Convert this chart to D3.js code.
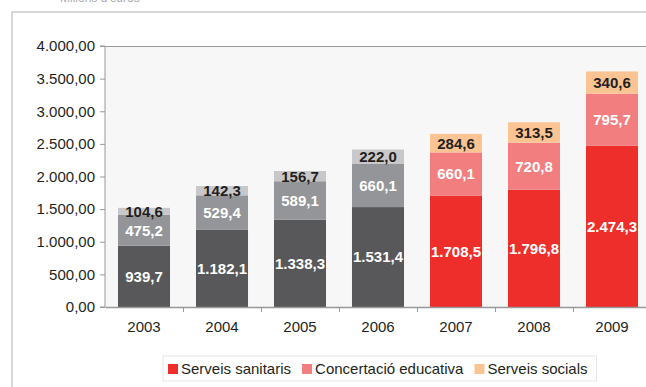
<!DOCTYPE html>
<html><head><meta charset="utf-8">
<script src="https://cdn.jsdelivr.net/npm/d3@7"></script>
<style>
html,body{margin:0;padding:0;background:#fff;overflow:hidden;}
text{font-family:"Liberation Sans",Arial,Helvetica,sans-serif;}
</style></head>
<body>
<svg id="chart" width="646" height="387"></svg>
<script>
const years = ["2003","2004","2005","2006","2007","2008","2009"];
const sanitaris = [939.7, 1182.1, 1338.3, 1531.4, 1708.5, 1796.8, 2474.3];
const educativa = [475.2, 529.4, 589.1, 660.1, 660.1, 720.8, 795.7];
const socials = [104.6, 142.3, 156.7, 222.0, 284.6, 313.5, 340.6];
const seriesNames = ["Serveis sanitaris", "Concertació educativa", "Serveis socials"];
const yTicks = [0, 500, 1000, 1500, 2000, 2500, 3000, 3500, 4000];

const colorsOld = ["#58585a", "#949598", "#c8c8ca"];
const colorsNew = ["#ee2e2b", "#f27e80", "#fcc493"];
const grayYears = ["2003","2004","2005","2006"];

const svg = d3.select("#chart");
const plot = {left:105, top:46, bottom:307};
const bandW = 78;
const FS = 15;

// outer frame
svg.append("rect").attr("x",12).attr("y",12).attr("width",700).attr("height",450)
  .attr("fill","none").attr("stroke","#cfcfcf").attr("stroke-width",1.6);
svg.append("text").attr("x",60).attr("y",2).attr("fill","#aaa").attr("font-size",12).text("Milions d'euros");

const x = d3.scaleBand().domain(years).range([plot.left, plot.left + bandW*years.length]).paddingInner(0.333).paddingOuter(0.1665);
const y = d3.scaleLinear().domain([0,4000]).range([plot.bottom, plot.top]);

svg.append("rect").attr("x",plot.left).attr("y",plot.top).attr("width",bandW*years.length).attr("height",plot.bottom-plot.top)
  .attr("fill","#f7f7f7");
svg.append("line").attr("x1",plot.left).attr("x2",plot.left+bandW*years.length).attr("y1",plot.top+0.5).attr("y2",plot.top+0.5)
  .attr("stroke","#999").attr("stroke-width",1.2);

const data = years.map((yr,i)=>({year:yr, sanitaris:sanitaris[i], educativa:educativa[i], socials:socials[i]}));
const stack = d3.stack().keys(["sanitaris","educativa","socials"]);
const layers = stack(data);

const fmt = v => {
  const s = v.toFixed(1).split(".");
  const int = s[0].replace(/\B(?=(\d{3})+(?!\d))/g, ".");
  return int + "," + s[1];
};
const fmtAxis = v => {
  const s = v.toFixed(2).split(".");
  return s[0].replace(/\B(?=(\d{3})+(?!\d))/g, ".") + "," + s[1];
};

layers.forEach((layer, li) => {
  const g = svg.append("g");
  g.selectAll("rect").data(layer).enter().append("rect")
    .attr("x", d => x(d.data.year))
    .attr("width", x.bandwidth())
    .attr("y", d => y(d[1]))
    .attr("height", d => y(d[0]) - y(d[1]))
    .attr("fill", d => grayYears.includes(d.data.year) ? colorsOld[li] : colorsNew[li]);
  g.selectAll("text").data(layer).enter().append("text")
    .attr("x", d => x(d.data.year) + x.bandwidth()/2)
    .attr("y", d => (y(d[0]) + y(d[1]))/2)
    .attr("dy", "0.36em")
    .attr("text-anchor","middle")
    .attr("font-size", FS).attr("font-weight","bold")
    .attr("fill", li === 2 ? "#231f20" : "#ffffff")
    .text(d => fmt(d[1]-d[0]));
});

// y axis
const yAxis = d3.axisLeft(y).tickValues(yTicks).tickFormat(fmtAxis).tickSize(5).tickPadding(5);
const ya = svg.append("g").attr("transform",`translate(${plot.left},0)`).call(yAxis);
ya.select(".domain").attr("stroke","#999").attr("d", `M-5,${plot.bottom}H0V${plot.top}H-5`);
ya.selectAll(".tick line").attr("stroke","#999");
ya.selectAll(".tick text").attr("font-size",FS).attr("fill","#231f20").attr("font-family","Liberation Sans, Arial, sans-serif");

// x axis
const xAxis = d3.axisBottom(x).tickSize(0).tickPadding(14);
const xa = svg.append("g").attr("transform",`translate(0,${plot.bottom})`).call(xAxis);
xa.select(".domain").attr("stroke","#999").attr("stroke-width",1.5);
xa.selectAll(".tick text").attr("font-size",FS).attr("fill","#231f20").attr("font-family","Liberation Sans, Arial, sans-serif");
// separators between categories
svg.append("g").selectAll("line").data(years.slice(0)).enter().append("line")
  .attr("x1", (d,i)=> plot.left + bandW*(i+1) + 0.5).attr("x2",(d,i)=> plot.left + bandW*(i+1) + 0.5)
  .attr("y1", plot.bottom).attr("y2", plot.bottom+5).attr("stroke","#999");

// legend
const lg = svg.append("g");
const lbox = lg.append("rect").attr("x",163).attr("y",356).attr("height",25).attr("fill","#fff").attr("stroke","#e6e6e6");
let cx = 168;
seriesNames.forEach((n,i)=>{
  lg.append("rect").attr("x",cx).attr("y",364).attr("width",10).attr("height",10).attr("fill",colorsNew[i]);
  const t = lg.append("text").attr("x",cx+13).attr("y",374).attr("font-size",FS).attr("fill","#231f20").text(n);
  cx = cx + 13 + t.node().getComputedTextLength() + 11;
});
lbox.attr("width", cx - 163 - 2);
</script>
</body></html>
